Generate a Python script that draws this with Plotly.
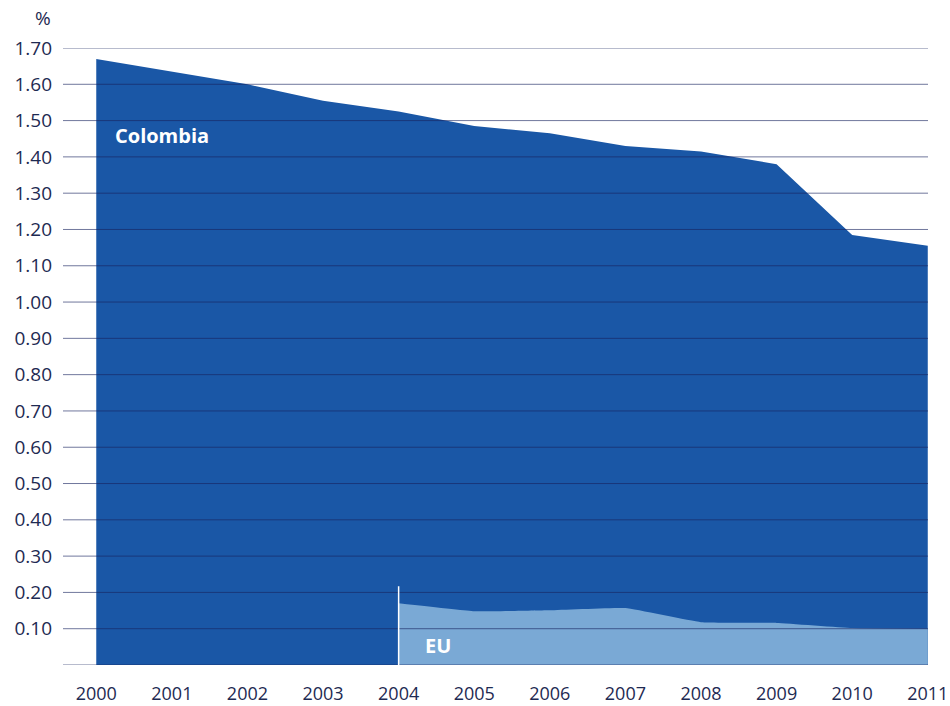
import plotly.graph_objects as go

# Series values (%)
years = [2000, 2001, 2002, 2003, 2004, 2005, 2006, 2007, 2008, 2009, 2010, 2011]
colombia = [1.67, 1.635, 1.60, 1.555, 1.525, 1.485, 1.465, 1.43, 1.415, 1.38, 1.185, 1.155]
eu_years = [2004, 2005, 2006, 2007, 2008, 2009, 2010, 2011]
eu = [0.17, 0.148, 0.151, 0.157, 0.118, 0.116, 0.102, 0.10]

# Axis ticks
y_ticks = [round(0.1 * i, 2) for i in range(18)]
y_ticktext = ["" if v == 0 else f"{v:.2f}" for v in y_ticks]

DARK_BLUE = "rgb(26,87,166)"
LIGHT_BLUE = "rgb(122,169,213)"
GRID = "rgba(25,35,95,0.62)"
TEXT = "rgb(30,42,82)"
FONT = "Open Sans, Lato, sans-serif"

fig = go.Figure()
fig.add_trace(go.Scatter(
    x=years, y=colombia, mode="lines", fill="tozeroy",
    fillcolor=DARK_BLUE, line=dict(width=0, color=DARK_BLUE),
    hoverinfo="x+y", name="Colombia",
))
fig.add_trace(go.Scatter(
    x=eu_years, y=eu, mode="lines", fill="tozeroy",
    fillcolor=LIGHT_BLUE, line=dict(width=0, color=LIGHT_BLUE, shape="spline", smoothing=0.3),
    hoverinfo="x+y", name="EU",
))

# Horizontal gridlines drawn over the filled areas
shapes = []
for v in y_ticks:
    shapes.append(dict(
        type="line", xref="paper", yref="y", x0=0, x1=1, y0=v, y1=v,
        line=dict(color=GRID, width=1), layer="above",
    ))
# White marker line where the EU series begins
shapes.append(dict(
    type="line", xref="x", yref="y", x0=eu_years[0], x1=eu_years[0],
    y0=0, y1=0.217, line=dict(color="white", width=1.5), layer="above",
))

fig.update_layout(
    width=950, height=706,
    margin=dict(l=63, r=22, t=48, b=41, autoexpand=False),
    paper_bgcolor="white", plot_bgcolor="white",
    showlegend=False,
    shapes=shapes,
    font=dict(family=FONT, color=TEXT, size=19),
    xaxis=dict(
        range=[1999.56, 2011.003], tickvals=years, ticktext=[str(y) for y in years],
        showgrid=False, zeroline=False, showline=False, ticks="",
        automargin=False, ticklabeloverflow="allow",
        ticklabelstandoff=16, tickfont=dict(size=18, color=TEXT, family=FONT),
    ),
    yaxis=dict(
        range=[0, 1.70], tickvals=y_ticks, ticktext=y_ticktext,
        showgrid=False, zeroline=False, showline=False, ticks="",
        automargin=False,
        ticklabelstandoff=10, tickfont=dict(size=19, color=TEXT, family=FONT),
    ),
    annotations=[
        dict(text="%", xref="paper", yref="paper", x=-0.012, y=1.0, yshift=30,
             xanchor="right", yanchor="middle", showarrow=False,
             font=dict(size=19, color=TEXT, family=FONT)),
        dict(text="<b>Colombia</b>", xref="x", yref="y", x=2000.22, y=1.46,
             xanchor="left", yanchor="middle", showarrow=False,
             font=dict(size=20, color="white", family=FONT)),
        dict(text="<b>EU</b>", xref="x", yref="y", x=2004.32, y=0.055,
             xanchor="left", yanchor="middle", showarrow=False,
             font=dict(size=20, color="white", family=FONT)),
    ],
)

fig.write_html("out.html")
